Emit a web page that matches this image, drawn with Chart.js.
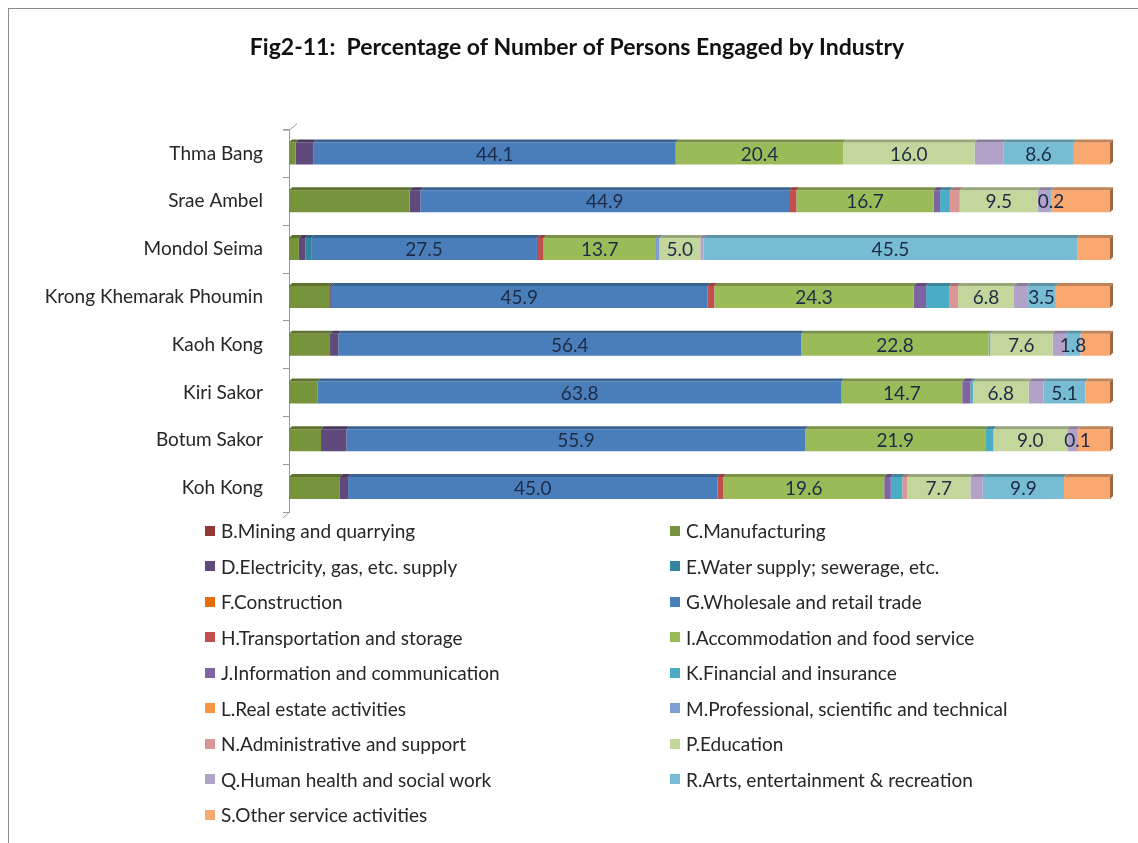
<!DOCTYPE html>
<html>
<head>
<meta charset="utf-8">
<script src="https://cdn.jsdelivr.net/npm/chart.js@4.4.1/dist/chart.umd.min.js"></script>
<style>
  html, body { margin: 0; padding: 0; background: #fff; }
  #wrap { position: relative; width: 1138px; height: 843px; overflow: hidden; }
  #frame { position: absolute; left: 8px; top: 8px; width: 1140px; height: 850px; border-left: 1px solid #8c8c8c; border-top: 1px solid #8c8c8c; box-sizing: border-box; pointer-events: none; }
  #chart { position: absolute; left: 0; top: 0; }
  #legend { position: absolute; left: 205px; top: 513px; display: grid; grid-template-columns: 465px 440px; grid-auto-rows: 35.5px; align-items: center; font-family: Lato, "Noto Sans", sans-serif; font-size: 19px; color: #262626; }
  #legend .item { display: flex; align-items: center; white-space: nowrap; }
  #legend .box { width: 10px; height: 10px; margin-right: 6px; flex: none; }
</style>
</head>
<body>
<div id="wrap">
  <canvas id="chart" width="1138" height="843"></canvas>
  <div id="legend"></div>
  <div id="frame"></div>
</div>
<script>
// categories, top to bottom
const districts = ["Thma Bang", "Srae Ambel", "Mondol Seima", "Krong Khemarak Phoumin", "Kaoh Kong", "Kiri Sakor", "Botum Sakor", "Koh Kong"];

const industries = [
  "B.Mining and quarrying", "C.Manufacturing", "D.Electricity, gas, etc. supply", "E.Water supply; sewerage, etc.",
  "F.Construction", "G.Wholesale and retail trade", "H.Transportation and storage", "I.Accommodation and food service",
  "J.Information and communication", "K.Financial and insurance", "L.Real estate activities", "M.Professional, scientific and technical",
  "N.Administrative and support", "P.Education", "Q.Human health and social work", "R.Arts, entertainment & recreation",
  "S.Other service activities"
];

// percentages per district (same order as districts)
const mining        = [0, 0, 0, 0, 0, 0, 0, 0];
const manufacturing = [0.8, 14.7, 1.2, 4.9, 5.0, 3.5, 3.9, 6.2];
const electricity   = [2.2, 1.3, 0.8, 0.2, 1.0, 0, 3.1, 1.0];
const water         = [0, 0, 0.7, 0, 0, 0, 0, 0];
const construction  = [0, 0, 0, 0, 0, 0, 0, 0];
const wholesale     = [44.1, 44.9, 27.5, 45.9, 56.4, 63.8, 55.9, 45.0];
const transport     = [0, 0.9, 0.8, 0.8, 0, 0, 0, 0.7];
const accommodation = [20.4, 16.7, 13.7, 24.3, 22.8, 14.7, 21.9, 19.6];
const information   = [0, 0.8, 0, 1.5, 0, 1.0, 0, 0.8];
const financial     = [0, 1.2, 0, 2.8, 0, 0.3, 1.0, 1.4];
const realEstate    = [0, 0, 0, 0, 0, 0, 0, 0];
const professional  = [0, 0, 0.4, 0, 0.2, 0, 0, 0];
const administrative = [0, 1.2, 0, 1.1, 0, 0, 0, 0.6];
const education     = [16.0, 9.5, 5.0, 6.8, 7.6, 6.8, 9.0, 7.7];
const health        = [3.5, 1.5, 0.4, 1.6, 1.6, 1.8, 1.2, 1.5];
const arts          = [8.6, 0.2, 45.5, 3.5, 1.8, 5.1, 0.1, 9.9];
const otherService  = [4.4, 7.1, 4.0, 6.6, 3.6, 3.0, 3.9, 5.6];

const seriesValues = [mining, manufacturing, electricity, water, construction, wholesale, transport, accommodation,
  information, financial, realEstate, professional, administrative, education, health, arts, otherService];

const seriesColors = ["#953735", "#77933C", "#604A7B", "#31859C", "#E46C0A", "#4A7EBB", "#C0504D", "#9BBB59",
  "#8064A2", "#4BACC6", "#F79646", "#7F9ED3", "#D99694", "#C3D69B", "#B3A2C7", "#78BCD4", "#F9A870"];

// only these series carry value labels
const labeledSeries = [5, 7, 13, 15];

function shade(hex, f) {
  const n = parseInt(hex.slice(1), 16);
  const r = Math.round(((n >> 16) & 255) * f);
  const g = Math.round(((n >> 8) & 255) * f);
  const b = Math.round((n & 255) * f);
  return `rgb(${r},${g},${b})`;
}

// fake 3D top/side faces, axis corners and value labels
const bar3d = {
  id: "bar3d",
  afterDatasetsDraw(chart) {
    const ctx = chart.ctx;
    const d = 3;
    const datasets = chart.data.datasets;
    const area = chart.chartArea;
    ctx.save();

    // slanted ends of the left wall
    ctx.strokeStyle = "#9a9a9a";
    ctx.lineWidth = 1;
    ctx.beginPath();
    ctx.moveTo(area.left - 6, area.top + 0.5);
    ctx.lineTo(area.left + 0.5, area.top + 0.5);
    ctx.lineTo(area.left + 8, area.top - 6);
    ctx.moveTo(area.left + 0.5, area.bottom);
    ctx.lineTo(area.left - 6, area.bottom + 6);
    ctx.stroke();

    datasets.forEach((ds, i) => {
      chart.getDatasetMeta(i).data.forEach((bar, j) => {
        if (!ds.data[j]) return;
        const p = bar.getProps(["x", "y", "base", "height"], true);
        const top = p.y - p.height / 2;
        const x0 = Math.min(p.base, p.x), x1 = Math.max(p.base, p.x);
        ctx.fillStyle = shade(ds.backgroundColor, 0.78);
        ctx.beginPath();
        ctx.moveTo(x0, top);
        ctx.lineTo(x0 + d, top - d);
        ctx.lineTo(x1 + d, top - d);
        ctx.lineTo(x1, top);
        ctx.closePath();
        ctx.fill();
      });
    });
    const last = datasets.length - 1;
    chart.getDatasetMeta(last).data.forEach((bar) => {
      const p = bar.getProps(["x", "y", "base", "height"], true);
      const top = p.y - p.height / 2, bottom = p.y + p.height / 2;
      ctx.fillStyle = shade(datasets[last].backgroundColor, 0.62);
      ctx.beginPath();
      ctx.moveTo(p.x, top);
      ctx.lineTo(p.x + d, top - d);
      ctx.lineTo(p.x + d, bottom - d);
      ctx.lineTo(p.x, bottom);
      ctx.closePath();
      ctx.fill();
    });
    ctx.font = "19px Lato, 'Noto Sans', sans-serif";
    ctx.fillStyle = "#1d2b47";
    ctx.textAlign = "center";
    ctx.textBaseline = "middle";
    labeledSeries.forEach((i) => {
      chart.getDatasetMeta(i).data.forEach((bar, j) => {
        const p = bar.getProps(["x", "y", "base"], true);
        ctx.fillText(datasets[i].data[j].toFixed(1), (p.x + p.base) / 2, p.y + 1);
      });
    });
    ctx.restore();
  }
};

const datasets = industries.map((name, i) => ({
  label: name,
  data: seriesValues[i],
  backgroundColor: seriesColors[i],
  borderWidth: 0,
  categoryPercentage: 1,
  barPercentage: 0.46
}));

new Chart(document.getElementById("chart"), {
  type: "bar",
  data: { labels: districts, datasets: datasets },
  options: {
    indexAxis: "y",
    responsive: false,
    animation: false,
    layout: { padding: { left: 44, right: 28, top: 0, bottom: 331 } },
    plugins: {
      legend: { display: false },
      tooltip: { enabled: false },
      title: {
        display: true,
        text: "Fig2-11:  Percentage of Number of Persons Engaged by Industry",
        color: "#111",
        font: { family: "Lato, 'Noto Sans', sans-serif", size: 23, weight: "bold" },
        padding: { top: 34, bottom: 68 }
      }
    },
    scales: {
      x: { stacked: true, min: 0, max: 100, display: false },
      y: {
        stacked: true,
        afterFit(scale) { scale.width = 245; },
        grid: { drawOnChartArea: false, tickLength: 6, color: "#9a9a9a" },
        border: { display: true, color: "#9a9a9a" },
        ticks: { padding: 20, color: "#262626", font: { family: "Lato, 'Noto Sans', sans-serif", size: 19 } }
      }
    }
  },
  plugins: [bar3d]
});

// two-column legend, row by row
const legendEl = document.getElementById("legend");
industries.forEach((name, i) => {
  const item = document.createElement("div");
  item.className = "item";
  item.innerHTML = `<span class="box" style="background:${seriesColors[i]}"></span><span>${name}</span>`;
  legendEl.appendChild(item);
});
</script>
</body>
</html>
